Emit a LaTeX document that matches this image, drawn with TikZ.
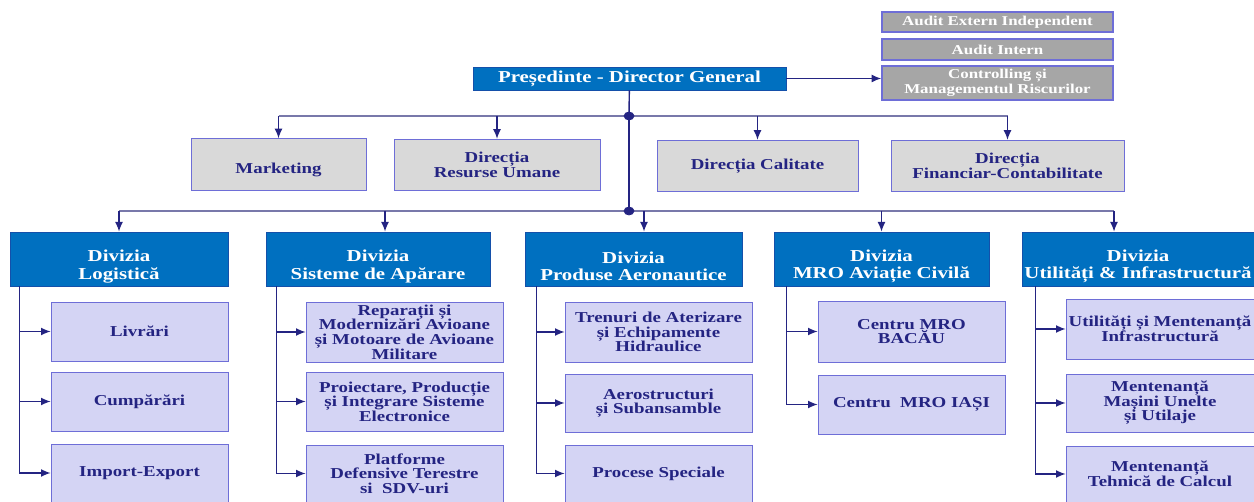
\documentclass[tikz,border=0pt]{standalone}
\usepackage{fontspec}
\setmainfont{Liberation Serif}[FakeStretch=1.25]
\usepackage{tikz}
\usetikzlibrary{shapes.geometric,arrows.meta}
\usepackage{xcolor}
\definecolor{divblue}{RGB}{0,112,192}
\definecolor{divedge}{RGB}{20,80,170}
\definecolor{navy}{RGB}{36,36,130}
\definecolor{busgray}{RGB}{120,120,170}
\definecolor{darkgray}{RGB}{166,166,166}
\definecolor{lightgray}{RGB}{217,217,217}
\definecolor{lavender}{RGB}{212,212,244}
\definecolor{boxedge}{RGB}{110,110,215}
\newcommand{\lowstrut}{\rule{0pt}{15pt}}

\begin{document}
\begin{tikzpicture}[x=0.02cm,y=-0.02cm,
  topbox/.style={rectangle,draw=boxedge,fill=darkgray,line width=0.8pt,text=white,align=center,
    inner sep=1pt,minimum width=4.62cm,font=\fontsize{7.7}{7}\selectfont\bfseries},
  presbox/.style={rectangle,draw=divedge,fill=divblue,text=white,align=center,inner sep=1pt,
    font=\fontsize{9.5}{10}\selectfont\bfseries},
  divbox/.style={rectangle,draw=divedge,fill=divblue,text=white,align=center,inner sep=1pt,
    minimum height=1.08cm,font=\fontsize{9.5}{10}\selectfont\bfseries},
  midbox/.style={rectangle,draw=boxedge,fill=lightgray,text=navy,align=center,inner sep=1pt,
    minimum height=1.03cm,font=\fontsize{8.6}{8.5}\selectfont\bfseries},
  subbox/.style={rectangle,draw=boxedge,fill=lavender,text=navy,align=center,inner sep=1pt,
    font=\fontsize{8.6}{8.3}\selectfont\bfseries},
  junction/.style={ellipse,draw=navy,fill=navy,inner sep=0pt,minimum width=0.2cm,minimum height=0.16cm},
  bus/.style={draw=busgray,line width=0.8pt},
  link/.style={draw=navy,line width=0.8pt},
  arr/.style={draw=navy,line width=0.8pt,-{Latex[length=5.5pt,width=4.5pt]}}]
  \useasboundingbox (0,0) rectangle (1254,502);

  \node (audext) at (997.5,22) [topbox,minimum height=0.4cm] {Audit Extern Independent};
  \node (audint) at (997.5,49.5) [topbox,minimum height=0.42cm] {Audit Intern};
  \node (ctrl) at (997.5,83) [topbox,minimum height=0.68cm] {Controlling și\\Managementul Riscurilor};
  \node (pres) at (629.5,78.5) [presbox,minimum width=6.26cm,minimum height=0.46cm] {Președinte - Director General};

  \node (mkt) at (278.5,164.5) [midbox,minimum width=3.5cm] {\rule{0pt}{12pt}Marketing};
  \node (hr) at (497,165) [midbox,minimum width=4.12cm] {Direcția\\Resurse Umane};
  \node (cal) at (757.5,166) [midbox,minimum width=4.02cm] {Direcția Calitate};
  \node (fin) at (1007.5,166) [midbox,minimum width=4.66cm] {Direcția\\Financiar-Contabilitate};

  \node (logi) at (119,259) [divbox,minimum width=4.36cm] {\lowstrut Divizia\\Logistică};
  \node (sist) at (378,259) [divbox,minimum width=4.48cm] {\lowstrut Divizia\\Sisteme de Apărare};
  \node (prod) at (633.5,259) [divbox,minimum width=4.34cm] {\lowstrut Divizia\\Produse Aeronautice};
  \node (mro) at (881.5,259) [divbox,minimum width=4.3cm] {\lowstrut Divizia\\MRO Aviație Civilă};
  \node (util) at (1138,259) [divbox,minimum width=4.64cm] {\lowstrut Divizia\\Utilități \& Infrastructură};

  \node (livr) at (139.5,331.5) [subbox,minimum width=3.54cm,minimum height=1.18cm] {Livrări};
  \node (cump) at (139.5,401.5) [subbox,minimum width=3.54cm,minimum height=1.18cm] {Cumpărări};
  \node (impx) at (139.5,473) [subbox,minimum width=3.54cm,minimum height=1.16cm] {Import-Export};

  \node (rep) at (404.5,332) [subbox,minimum width=3.94cm,minimum height=1.2cm] {Reparații și\\Modernizări Avioane\\și Motoare de Avioane\\Militare};
  \node (proi) at (404.5,401.5) [subbox,minimum width=3.94cm,minimum height=1.18cm] {Proiectare, Producție\\și Integrare Sisteme\\Electronice};
  \node (plat) at (404.5,473.5) [subbox,minimum width=3.94cm,minimum height=1.14cm] {Platforme\\Defensive Terestre\\si\ \ SDV-uri};

  \node (tren) at (658.5,332) [subbox,minimum width=3.74cm,minimum height=1.2cm] {Trenuri de Aterizare\\și Echipamente\\Hidraulice};
  \node (aero) at (658.5,403) [subbox,minimum width=3.74cm,minimum height=1.16cm] {Aerostructuri\\și Subansamble};
  \node (proc) at (658.5,473.5) [subbox,minimum width=3.74cm,minimum height=1.14cm] {Procese Speciale};

  \node (bac) at (911.5,331.5) [subbox,minimum width=3.74cm,minimum height=1.22cm] {Centru MRO\\BACĂU};
  \node (iasi) at (911.5,404.5) [subbox,minimum width=3.74cm,minimum height=1.18cm] {Centru\ \ MRO IAȘI};

  \node (uinf) at (1160,329) [subbox,minimum width=3.76cm,minimum height=1.2cm] {Utilități și Mentenanță\\Infrastructură};
  \node (mmu) at (1160,403) [subbox,minimum width=3.76cm,minimum height=1.16cm] {Mentenanță\\Mașini Unelte\\și Utilaje};
  \node (mtc) at (1160,474) [subbox,minimum width=3.76cm,minimum height=1.12cm] {Mentenanță\\Tehnică de Calcul};

  \coordinate (j1) at (629,116);
  \coordinate (j2) at (629,211);
  \coordinate (sistTop) at ([xshift=0.14cm]sist.north);
  \coordinate (prodTop) at ([xshift=0.21cm]prod.north);
  \coordinate (utilTop) at ([xshift=-0.48cm]util.north);
  \coordinate (logiT) at ([xshift=0.2cm]logi.south west);
  \coordinate (sistT) at ([xshift=0.22cm]sist.south west);
  \coordinate (prodT) at ([xshift=0.24cm]prod.south west);
  \coordinate (mroT) at ([xshift=0.26cm]mro.south west);
  \coordinate (utilT) at ([xshift=0.28cm]util.south west);

  \draw[arr] (pres.east) -- (pres.east -| ctrl.west);
  \draw[link] (pres) -- (j1);
  \draw[link] (j1) -- (j2);
  \draw[bus] (mkt.north |- j1) -- (fin.north |- j1);
  \draw[arr] (mkt.north |- j1) -- (mkt.north);
  \draw[arr] (hr.north |- j1) -- (hr.north);
  \draw[arr] (cal.north |- j1) -- (cal.north);
  \draw[arr] (fin.north |- j1) -- (fin.north);
  \draw[bus] (logi.north |- j2) -- (utilTop |- j2);
  \draw[arr] (logi.north |- j2) -- (logi.north);
  \draw[arr] (sistTop |- j2) -- (sistTop);
  \draw[arr] (prodTop |- j2) -- (prodTop);
  \draw[arr] (mro.north |- j2) -- (mro.north);
  \draw[arr] (utilTop |- j2) -- (utilTop);
  \node (dot1) at (j1) [junction] {};
  \node (dot2) at (j2) [junction] {};

  \draw[arr] (logiT) |- (livr.west);
  \draw[arr] (logiT) |- (cump.west);
  \draw[arr] (logiT) |- (impx.west);
  \draw[arr] (sistT) |- (rep.west);
  \draw[arr] (sistT) |- (proi.west);
  \draw[arr] (sistT) |- (plat.west);
  \draw[arr] (prodT) |- (tren.west);
  \draw[arr] (prodT) |- (aero.west);
  \draw[arr] (prodT) |- (proc.west);
  \draw[arr] (mroT) |- (bac.west);
  \draw[arr] (mroT) |- (iasi.west);
  \draw[arr] (utilT) |- (uinf.west);
  \draw[arr] (utilT) |- (mmu.west);
  \draw[arr] (utilT) |- (mtc.west);
\end{tikzpicture}
\end{document}
